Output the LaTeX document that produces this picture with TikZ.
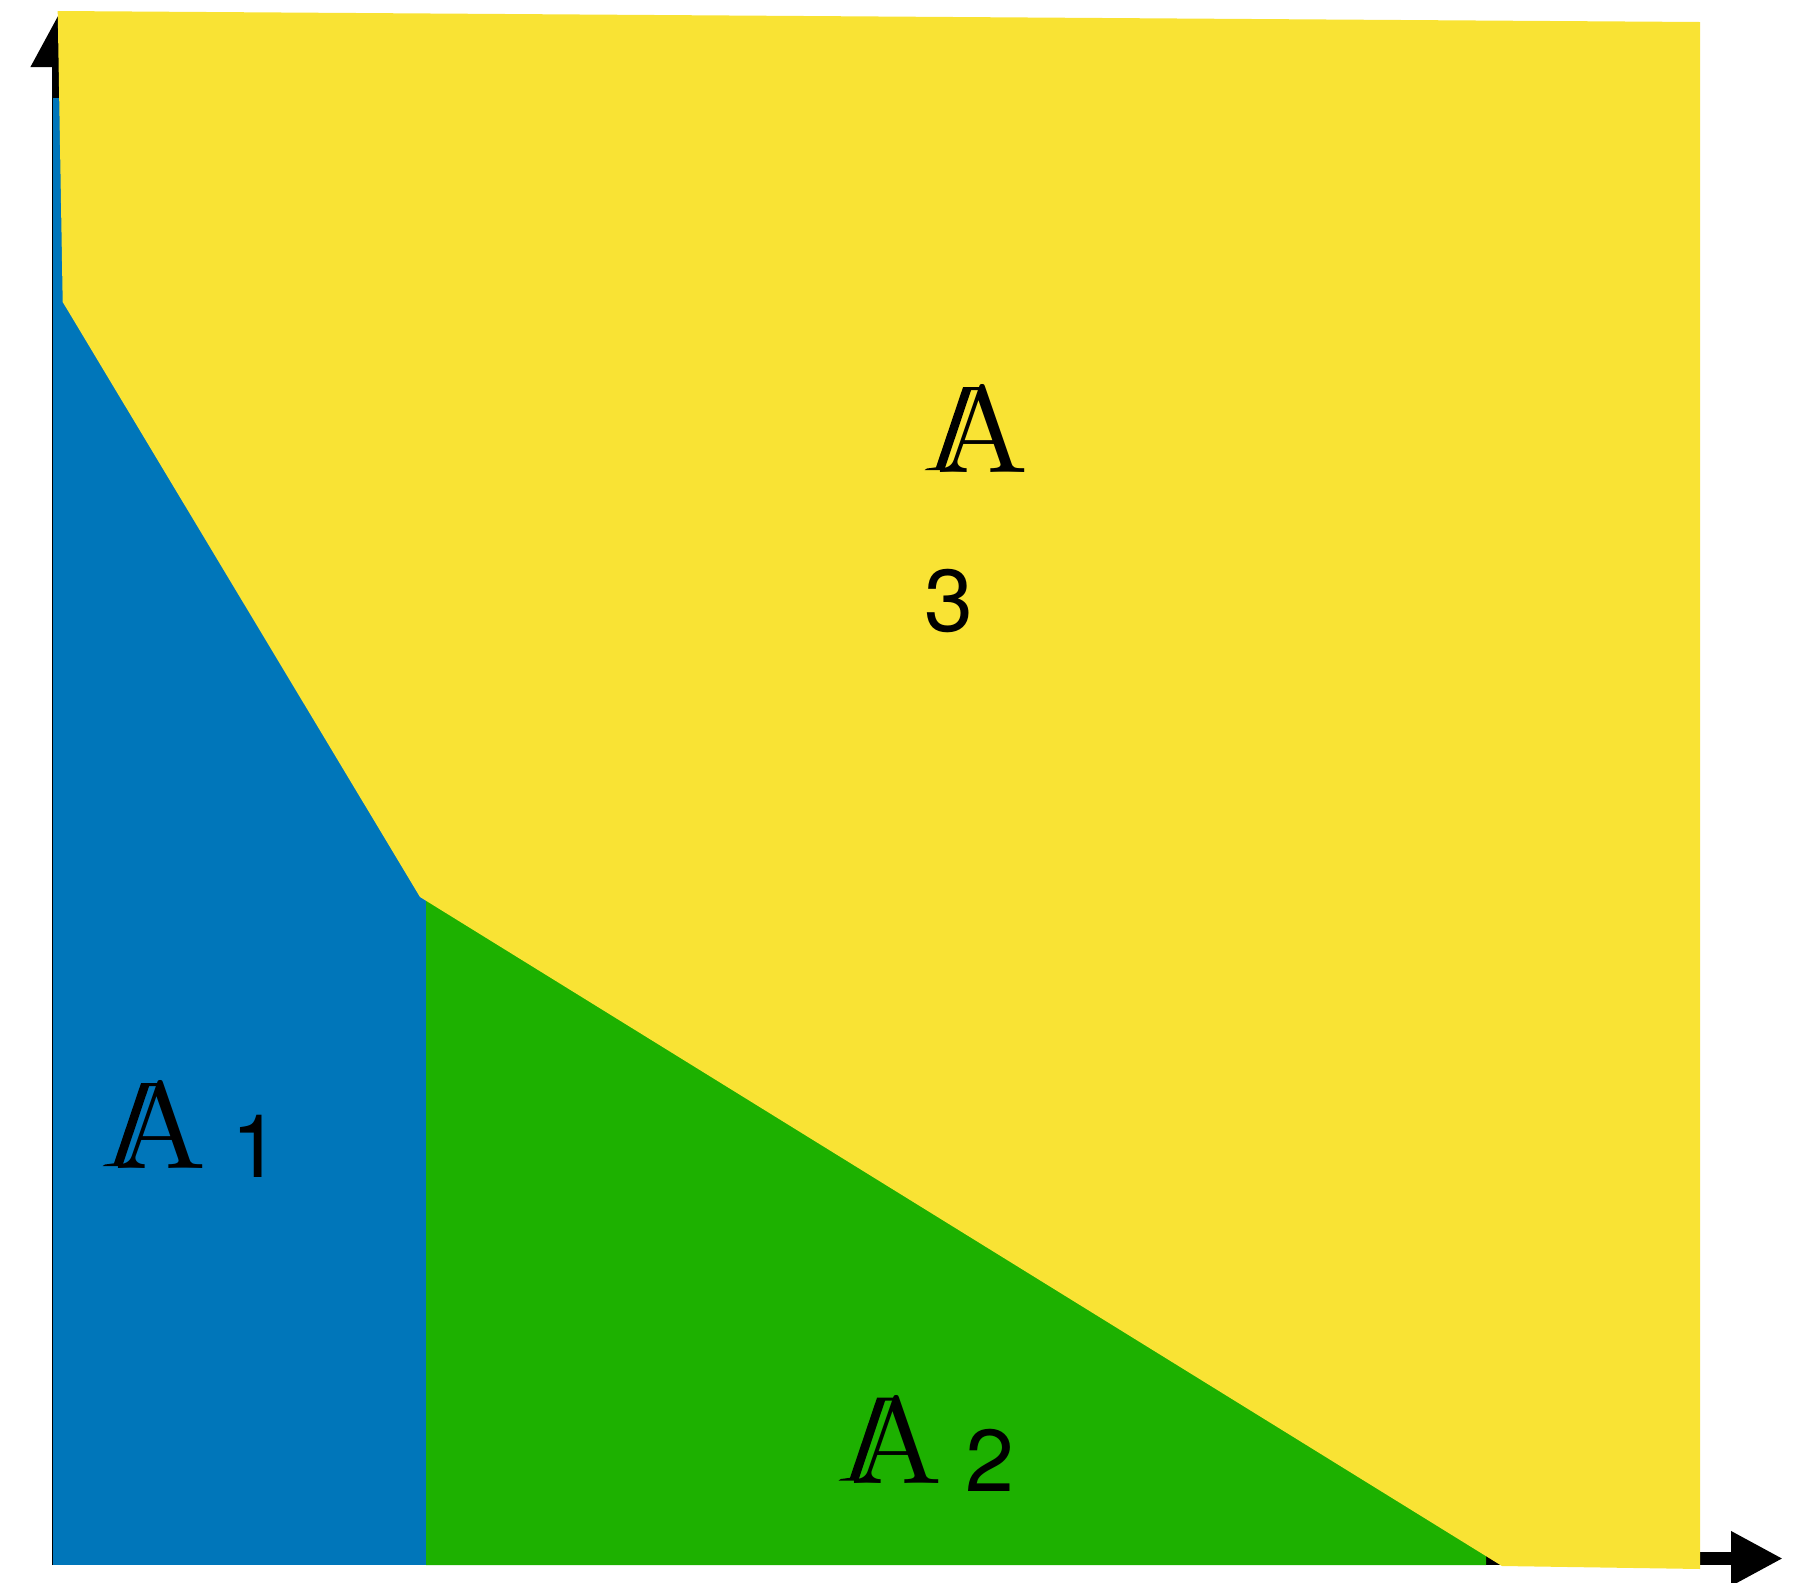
\documentclass[tikz,border=0pt]{standalone}
\usepackage{amsmath,amssymb}
\usepackage{fontspec}
\newfontfamily\digitfont{TeX Gyre Heros}
\newfontfamily\setfont{lmroman10-regular}[Extension=.otf]
\usepackage{tikz}
\usetikzlibrary{arrows.meta}
\definecolor{regblue}{RGB}{0,118,186}
\definecolor{reggreen}{RGB}{29,177,0}
\definecolor{regyellow}{RGB}{249,227,52}

\begin{document}
\begin{tikzpicture}[x=0.1mm,y=-0.1mm,>={Triangle[length=5.2mm,width=5.1mm]},
  every node/.style={inner sep=0pt},
  setlab/.style={font=\setfont\fontsize{35}{35}\selectfont},
  idxlab/.style={font=\digitfont\fontsize{25}{25}\selectfont}]
\useasboundingbox (0,0) rectangle (1804,1583);
% axes
\coordinate (o) at (52,1558.5);
\coordinate (xend) at (1783,1558.5);
\coordinate (yend) at (58,15);
\draw[line width=1.3mm,->] (o) -- (xend);
\draw[line width=1.3mm,->] (58,1565) -- (yend);
% regions A1, A2, A3
\fill[regblue] (53,98) -- (426,98) -- (426,1565) -- (53,1565) -- cycle;
\fill[reggreen] (420,894) -- (1486,1554) -- (1486,1565) -- (426,1565) -- (426,900) -- cycle;
\fill[regyellow] (57.7,11) -- (1700,22) -- (1700,1569) -- (1502,1566) -- (420,897) -- (62.7,302) -- cycle;
% labels
\node[setlab] (a1) at (161,1124.5) {A};
\node[idxlab] (i1) at (256,1146) {1};
\node[setlab] (a2) at (897,1439) {A};
\node[idxlab] (i2) at (990,1460) {2};
\node[setlab] (a3) at (983,428.5) {A};
\node[idxlab] (i3) at (949,601) {3};
% second stroke of the double-struck A
\foreach \n in {a1,a2,a3}
  \fill[shift={(\n.center)}] (-19.9,-41.5) -- (1.5,-41.5) -- (1.5,-38.5) -- (-11.9,-38.5)
    -- (-37.9,39) -- (-37.9,41.5) -- (-58.4,41.5) -- (-56,40) -- (-47,38.8) -- cycle;
\end{tikzpicture}
\end{document}
